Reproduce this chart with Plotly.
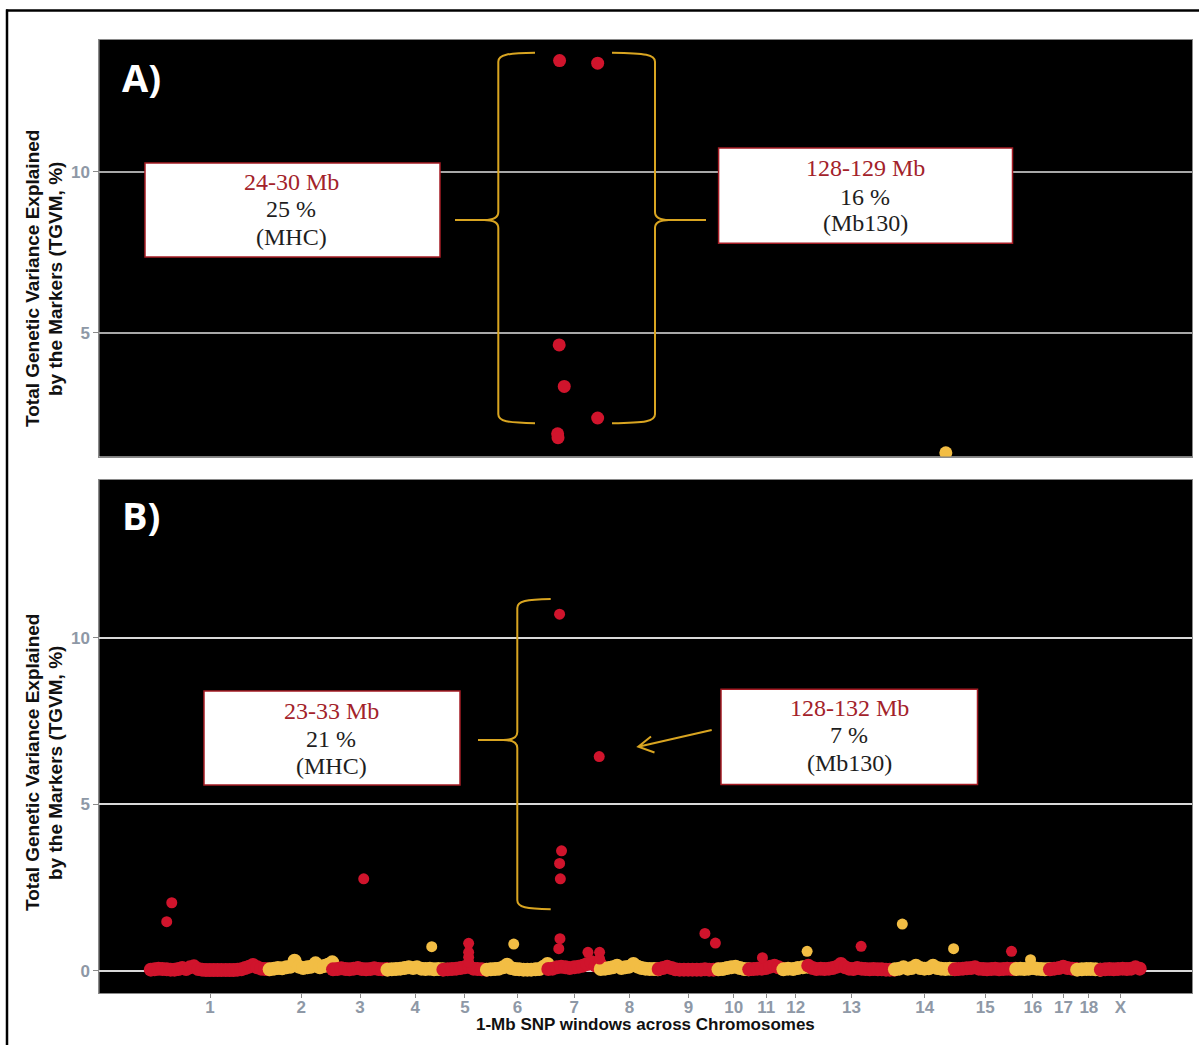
import numpy as np
import plotly.graph_objects as go

# ---------------- data ----------------
chrom_names = ["1", "2", "3", "4", "5", "6", "7", "8", "9", "10",
               "11", "12", "13", "14", "15", "16", "17", "18", "X"]
chrom_lengths_mb = [306, 163, 140, 144, 112, 158, 135, 149, 154, 79,
                    88, 64, 223, 154, 158, 87, 70, 61, 102]

# background band of 1-Mb windows (TGVM %, sampled along each chromosome)
band_chr1 = [0.03, 0.04, 0.06, 0.05, 0.04, 0.03, 0.03, 0.05, 0.08, 0.05, 0.10, 0.13, 0.05, 0.03, 0.02, 0.02,
             0.02, 0.02, 0.02, 0.02, 0.02, 0.02, 0.03, 0.04, 0.08, 0.12, 0.17, 0.10, 0.06, 0.05, 0.04]
band_chr2 = [0.04, 0.06, 0.08, 0.07, 0.10, 0.12, 0.30, 0.12, 0.08, 0.10, 0.12, 0.22, 0.10, 0.14, 0.18, 0.25]
band_chr3 = [0.04, 0.05, 0.07, 0.05, 0.04, 0.06, 0.08, 0.05, 0.04, 0.05, 0.07, 0.05, 0.04, 0.05]
band_chr4 = [0.03, 0.04, 0.05, 0.06, 0.08, 0.10, 0.08, 0.10, 0.06, 0.05, 0.06, 0.04, 0.05, 0.04]
band_chr5 = [0.03, 0.04, 0.05, 0.06, 0.08, 0.10, 0.12, 0.06, 0.05, 0.04, 0.03]
band_chr6 = [0.03, 0.04, 0.05, 0.06, 0.10, 0.18, 0.08, 0.05, 0.04, 0.03, 0.03, 0.03, 0.04, 0.05, 0.12, 0.20]
band_chr7 = [0.05, 0.06, 0.10, 0.12, 0.10, 0.08, 0.10, 0.12, 0.15, 0.20, 0.25, 0.15, 0.20]
band_chr8 = [0.05, 0.06, 0.08, 0.10, 0.15, 0.08, 0.10, 0.12, 0.20, 0.12, 0.08, 0.06, 0.05, 0.05, 0.04]
band_chr9 = [0.05, 0.08, 0.12, 0.08, 0.04, 0.03, 0.03, 0.03, 0.03, 0.03, 0.03, 0.04, 0.03, 0.03, 0.04]
band_chr10 = [0.04, 0.05, 0.08, 0.10, 0.12, 0.08, 0.05, 0.04]
band_chr11 = [0.04, 0.05, 0.06, 0.06, 0.08, 0.12, 0.15, 0.10, 0.06]
band_chr12 = [0.04, 0.06, 0.05, 0.08, 0.10, 0.12]
band_chr13 = [0.15, 0.08, 0.05, 0.06, 0.05, 0.06, 0.08, 0.12, 0.20, 0.10, 0.06, 0.05, 0.08, 0.06, 0.05,
              0.04, 0.05, 0.04, 0.04, 0.03, 0.03, 0.03]
band_chr14 = [0.04, 0.06, 0.10, 0.06, 0.08, 0.15, 0.08, 0.06, 0.07, 0.15, 0.08, 0.06, 0.05, 0.06, 0.05]
band_chr15 = [0.04, 0.05, 0.06, 0.07, 0.08, 0.10, 0.06, 0.05, 0.04, 0.05, 0.06, 0.04, 0.05, 0.06, 0.05, 0.06]
band_chr16 = [0.05, 0.06, 0.05, 0.06, 0.08, 0.06, 0.05, 0.04, 0.05]
band_chr17 = [0.04, 0.06, 0.08, 0.12, 0.08, 0.06, 0.05]
band_chr18 = [0.03, 0.04, 0.05, 0.05, 0.04, 0.03]
band_chrX = [0.03, 0.04, 0.05, 0.04, 0.05, 0.06, 0.05, 0.06, 0.10, 0.06]

# outstanding windows, panel B
peak_b_chrom = ["1", "1", "3", "4", "5", "5", "5", "5", "6", "7", "7", "7", "7", "7", "7", "7", "7", "7", "7",
                "9", "9", "11", "12", "13", "14", "14", "15", "16"]
peak_b_pos = [42, 55, 80, 115, 66, 66, 66, 66, 70, 30, 132, 35, 30, 32, 31, 28, 103, 133, 133,
              120, 147, 35, 62, 137, 20, 152, 147, 38]
peak_b_val = [1.47, 2.04, 2.76, 0.72, 0.82, 0.55, 0.40, 0.25, 0.80, 10.71, 6.43, 3.60, 3.22, 2.76, 0.96, 0.66,
              0.55, 0.55, 0.35, 1.12, 0.83, 0.39, 0.58, 0.73, 1.40, 0.66, 0.58, 0.33]

# outstanding windows, panel A (upper part of the scale only)
peak_a_chrom = ["7", "7", "7", "7", "7", "7", "7", "14"]
peak_a_pos = [30, 128, 29, 42, 128, 25, 26, 132]
peak_a_val = [13.45, 13.37, 4.62, 3.33, 2.35, 1.86, 1.74, 1.27]

# ---------------- helpers ----------------
RED = "#d0142c"
YEL = "#f2bd44"
GOLD = "#d9a521"
W, H = 1199, 1045

band_by_chrom = [band_chr1, band_chr2, band_chr3, band_chr4, band_chr5, band_chr6, band_chr7, band_chr8,
                 band_chr9, band_chr10, band_chr11, band_chr12, band_chr13, band_chr14, band_chr15,
                 band_chr16, band_chr17, band_chr18, band_chrX]

lengths = np.array(chrom_lengths_mb, dtype=float)
starts = np.concatenate([[0.0], np.cumsum(lengths)[:-1]])
start_of = dict(zip(chrom_names, starts))
color_of = {c: (RED if i % 2 == 0 else YEL) for i, c in enumerate(chrom_names)}
tick_pos = starts + lengths / 2.0


def PX(x):
    return x / W


def PY(y):
    return 1 - y / H


# band points
bx, by, bc = [], [], []
for name, L, vals in zip(chrom_names, chrom_lengths_mb, band_by_chrom):
    pos = np.round(np.linspace(1, L - 1, len(vals)))
    bx += list(start_of[name] + pos - 0.5)
    by += list(vals)
    bc += [color_of[name]] * len(vals)

# peaks B
px_, py_, pc_ = [], [], []
for c, p, v in zip(peak_b_chrom, peak_b_pos, peak_b_val):
    px_.append(start_of[c] + p - 0.5)
    py_.append(v)
    pc_.append(color_of[c])

ax_, ay_, ac_ = [], [], []
for c, p, v in zip(peak_a_chrom, peak_a_pos, peak_a_val):
    ax_.append(start_of[c] + p - 0.5)
    ay_.append(v)
    ac_.append(color_of[c])

fig = go.Figure()
fig.add_trace(go.Scatter(x=ax_, y=ay_, mode="markers", xaxis="x", yaxis="y",
                         marker=dict(color=ac_, size=13, opacity=1, line=dict(width=0)), hoverinfo="skip"))
fig.add_trace(go.Scatter(x=bx, y=by, mode="markers", xaxis="x2", yaxis="y2",
                         marker=dict(color=bc, size=14, opacity=1, line=dict(width=0)), hoverinfo="skip"))
fig.add_trace(go.Scatter(x=px_, y=py_, mode="markers", xaxis="x2", yaxis="y2",
                         marker=dict(color=pc_, size=11, opacity=1, line=dict(width=0)), hoverinfo="skip"))

XR = [-132, 2680]
xdom = [99.3 / W, 1192 / W]
tickfont = dict(family="Liberation Sans", size=17, color="#8e98a6", weight="bold")
axline = dict(showline=True, mirror=True, linecolor="#8a8a8a", linewidth=1)

fig.update_layout(
    width=W, height=H,
    margin=dict(l=0, r=0, t=0, b=0),
    paper_bgcolor="white", plot_bgcolor="black",
    showlegend=False, hovermode=False,
    xaxis=dict(domain=xdom, range=XR, anchor="y", showticklabels=False, ticks="",
               showgrid=False, zeroline=False, **axline),
    yaxis=dict(domain=[PY(456.5), PY(40)], range=[1.155, 14.09], anchor="x",
               tickvals=[5, 10], ticktext=["5", "10"], ticks="outside", ticklen=5,
               tickcolor="#8a8a8a", tickfont=tickfont, showgrid=True, gridcolor="#a8a8a8",
               gridwidth=2, zeroline=False, **axline),
    xaxis2=dict(domain=xdom, range=XR, anchor="y2", tickvals=list(tick_pos), ticktext=chrom_names,
                ticks="outside", ticklen=4, tickcolor="#8a8a8a", tickfont=tickfont,
                ticklabelstandoff=-6,
                showgrid=False, zeroline=False, **axline),
    yaxis2=dict(domain=[PY(993.3), PY(480)], range=[-0.68, 14.74], anchor="x2",
                tickvals=[0, 5, 10], ticktext=["0", "5", "10"], ticks="outside", ticklen=5,
                tickcolor="#8a8a8a", tickfont=tickfont, showgrid=True, gridcolor="#d8d8d8",
                gridwidth=2, zeroline=False, **axline),
)

shapes = []


def P(x, y):
    return f"{PX(x):.5f},{PY(y):.5f}"


def brace(xl, yt, yb, ytip, xtip, xarm):
    d = 1 if xarm > xl else -1
    t = -d
    path = (f"M{P(xarm, yt)} C{P(xl + d * 9, yt + 0.5)} {P(xl, yt + 2)} {P(xl, yt + 9)} "
            f"L{P(xl, ytip - 8)} C{P(xl, ytip - 2)} {P(xl + t * 6, ytip)} {P(xl + t * 14, ytip)} "
            f"L{P(xtip, ytip)} L{P(xl + t * 14, ytip)} "
            f"C{P(xl + t * 6, ytip)} {P(xl, ytip + 2)} {P(xl, ytip + 8)} "
            f"L{P(xl, yb - 9)} C{P(xl, yb - 2)} {P(xl + d * 9, yb - 0.5)} {P(xarm, yb)}")
    return dict(type="path", xref="paper", yref="paper", path=path,
                line=dict(color=GOLD, width=2), layer="above")


shapes.append(brace(498.3, 52.7, 423.3, 220, 455, 535))
shapes.append(brace(655, 52.7, 423.3, 220, 706, 612))
shapes.append(brace(517.3, 599, 909.3, 740, 478, 550.7))

# arrow (panel B)
shapes.append(dict(type="path", xref="paper", yref="paper",
                   path=f"M{P(711.7, 730)} L{P(638.3, 746.7)} M{P(651, 736.5)} L{P(638.3, 746.7)} L{P(654.5, 752.5)}",
                   line=dict(color=GOLD, width=2), layer="above"))

# annotation boxes
boxes = [(145, 163, 440, 257), (718.6, 148, 1012.5, 243.3), (204, 691, 460, 785), (721, 689.3, 977.5, 784.6)]
for x0, y0, x1, y1 in boxes:
    shapes.append(dict(type="rect", xref="paper", yref="paper", x0=PX(x0), x1=PX(x1), y0=PY(y1), y1=PY(y0),
                       fillcolor="white", line=dict(color="#a51c24", width=1.5), layer="above"))

# outer frame
shapes.append(dict(type="line", xref="paper", yref="paper", x0=PX(7), x1=PX(7), y0=0, y1=PY(9.5),
                   line=dict(color="black", width=2.5)))
shapes.append(dict(type="line", xref="paper", yref="paper", x0=PX(6), x1=1, y0=PY(10.5), y1=PY(10.5),
                   line=dict(color="black", width=2.5)))
fig.update_layout(shapes=shapes)

ann = []


def text(x, y, s, size, color, family="Liberation Serif", weight="normal", angle=0, xanchor="center"):
    ann.append(dict(x=PX(x), y=PY(y), xref="paper", yref="paper", text=s, showarrow=False,
                    xanchor=xanchor, yanchor="middle", textangle=angle,
                    font=dict(family=family, size=size, color=color, weight=weight)))


box_texts = [
    (291, [181.7, 209, 236.7], ["24-30 Mb", "25 %", "(MHC)"]),
    (865, [168, 196.7, 223], ["128-129 Mb", "16 %", "(Mb130)"]),
    (331, [710.5, 739, 766], ["23-33 Mb", "21 %", "(MHC)"]),
    (849, [707.6, 735, 763], ["128-132 Mb", "7 %", "(Mb130)"]),
]
for cx, ys, lines in box_texts:
    for i, (yy, s) in enumerate(zip(ys, lines)):
        text(cx, yy, s, 24, "#a3222a" if i == 0 else "#1e1e1e")

text(120, 77, "A)", 38, "white", family="Open Sans", weight="bold", xanchor="left")
text(120, 515, "B)", 38, "white", family="Open Sans", weight="bold", xanchor="left")

for yc in (279, 763):
    text(32, yc, "Total Genetic Variance Explained", 19, "#111111", family="Liberation Sans",
         weight="bold", angle=-90)
    text(55, yc, "by the Markers (TGVM, %)", 19, "#111111", family="Liberation Sans",
         weight="bold", angle=-90)

text(645, 1024, "1-Mb SNP windows across Chromosomes", 17, "#111111", family="Liberation Sans",
     weight="bold")

fig.update_layout(annotations=ann)

fig.write_html("out.html", config={"displayModeBar": False})
